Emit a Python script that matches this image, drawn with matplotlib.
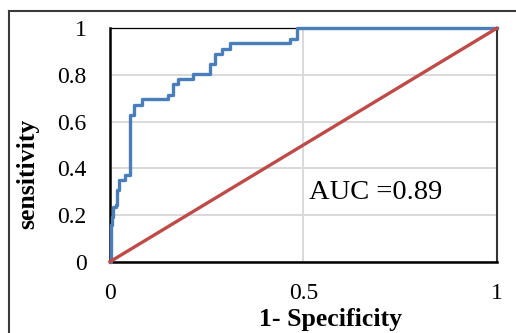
import matplotlib
matplotlib.use("Agg")
import matplotlib.pyplot as plt
from matplotlib.lines import Line2D

# ROC curve points (1-specificity, sensitivity)
fpr = [0.0, 0.002, 0.005, 0.009, 0.015, 0.019, 0.023, 0.040, 0.052, 0.062,
       0.082, 0.151, 0.164, 0.176, 0.215, 0.258, 0.271, 0.290, 0.310, 0.465,
       0.483, 1.0]
tpr = [0.0, 0.157, 0.193, 0.236, 0.243, 0.307, 0.350, 0.371, 0.630, 0.671,
       0.696, 0.714, 0.761, 0.783, 0.804, 0.847, 0.890, 0.911, 0.936, 0.954,
       1.0, 1.0]
ref_x = [0.0, 1.0]
ref_y = [0.0, 1.0]
xticks = [0, 0.5, 1]
xticklabels = ["0", "0.5", "1"]
yticks = [0, 0.2, 0.4, 0.6, 0.8, 1]
yticklabels = ["0", "0.2", "0.4", "0.6", "0.8", "1"]
auc_text = "AUC =0.89"

plt.rcParams['font.family'] = ['Liberation Serif', 'DejaVu Serif']

fig = plt.figure(figsize=(5.16, 3.33), dpi=100)
ax = fig.add_axes([110/516, 1-261.7/333, (496.7-110)/516, (261.7-28.3)/333])

ax.set_xlim(0, 1)
ax.set_ylim(0, 1)
ax.set_xticks(xticks)
ax.set_xticklabels(xticklabels)
ax.set_yticks(yticks)
ax.set_yticklabels(yticklabels)
ax.grid(True, color='#D9D9D9', linewidth=1.4)
ax.set_axisbelow(True)
ax.tick_params(axis='both', length=0, labelsize=17, colors='black')
ax.tick_params(axis='x', pad=15)
ax.tick_params(axis='y', pad=17)

ax.step(fpr, tpr, where='post', color='#4A7EBB', linewidth=2.4, zorder=3,
        clip_on=False)
ax.plot(ref_x, ref_y, color='#BE4B48', linewidth=2.4, zorder=4, clip_on=False)

ax.text(0.515, 0.268, auc_text, fontsize=20.5, ha='left', va='baseline')

ax.set_xlabel("1- Specificity", fontsize=18.5, fontweight='bold')
ax.xaxis.set_label_coords(0.569, -0.197)
ax.set_ylabel("sensitivity", fontsize=18.5, fontweight='bold')
ax.yaxis.set_label_coords(-0.182, 0.376)

ax.spines['left'].set_linewidth(1.8)
ax.spines['bottom'].set_linewidth(1.8)
ax.spines['right'].set_linewidth(1.5)
ax.spines['right'].set_color('#333333')
ax.spines['top'].set_linewidth(0.9)
for s in ax.spines.values():
    s.set_zorder(2.5)

# outer frame (cut at right and bottom)
fx = 8.5/516
fy = 1 - 11/333
fig.add_artist(Line2D([fx, fx], [0, fy], transform=fig.transFigure,
                      color='#3A3A3A', linewidth=1.5))
fig.add_artist(Line2D([fx, 1], [fy, fy], transform=fig.transFigure,
                      color='#3A3A3A', linewidth=1.5))

fig.savefig("out.png", dpi=100)
